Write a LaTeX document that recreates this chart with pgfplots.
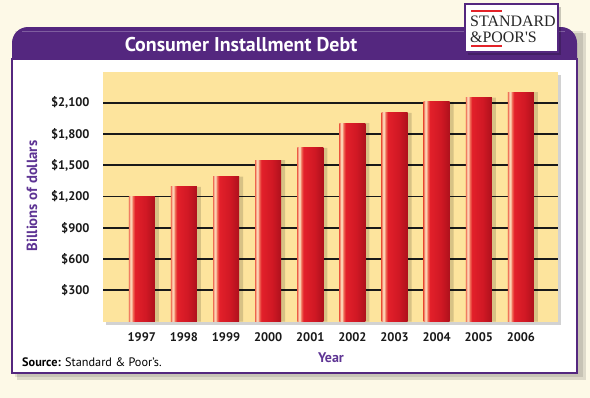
\documentclass[border=0pt]{standalone}
\usepackage{pgfplots}
\pgfplotsset{compat=1.18}
\usepackage{fontspec}
\setmainfont{PT Sans}
\newfontfamily\logofont{Liberation Serif}
\usetikzlibrary{shadows}
\definecolor{bgcream}{HTML}{FDF9E7}
\definecolor{ppurple}{HTML}{54277F}
\definecolor{plabel}{HTML}{5E3494}
\definecolor{tanbg}{HTML}{FDE49D}
\definecolor{sA}{HTML}{EE6E55}
\definecolor{sB}{HTML}{FCD2B2}
\definecolor{sC}{HTML}{F06A55}
\definecolor{sD}{HTML}{E3202A}
\definecolor{sE}{HTML}{D01824}
\definecolor{sF}{HTML}{AE111C}
\definecolor{logored}{HTML}{E32228}
\pgfdeclarehorizontalshading{barshade}{100bp}{color(0bp)=(sA); color(25bp)=(sA); color(28bp)=(sB); color(30bp)=(sB); color(33bp)=(sC); color(37bp)=(sD); color(58bp)=(sE); color(75bp)=(sF); color(100bp)=(sF)}
\pgfplotstableread{
x val
0 1200
1 1292
2 1390
3 1550
4 1667
5 1905
6 2002
7 2108
8 2150
9 2203
}\debt
\begin{document}
\begin{tikzpicture}
% background
\fill[bgcream] (0,0) rectangle (590bp,-398bp);
% panel shadow
\fill[black, opacity=0.12] (17bp,-33bp) rectangle (586bp,-380bp);
\fill[black, opacity=0.10] (15bp,-31bp) rectangle (583bp,-377bp);
% panel body
\draw[ppurple, line width=1.5bp, fill=white] (12bp,-59bp) rectangle (577bp,-373bp);
% title bar
\fill[ppurple] (12bp,-59bp) -- (12bp,-43bp) arc[start angle=180, end angle=90, radius=16bp] -- (561bp,-27bp) arc[start angle=90, end angle=0, radius=16bp] -- (577bp,-59bp) -- cycle;
\draw[white, opacity=0.25, line width=0.8bp] (22bp,-31bp) -- (565bp,-31bp);
\node[text=white, font=\bfseries\fontsize{20}{22}\selectfont] at (241bp,-45bp) {Consumer Installment Debt};
% logo
\fill[black, opacity=0.2] (468bp,-7bp) rectangle (561bp,-55bp);
\draw[ppurple, line width=2bp, fill=white] (465bp,-4bp) rectangle (558bp,-52bp);
\draw[logored, line width=1.5bp] (471bp,-11bp) -- (502bp,-11bp);
\draw[logored, line width=1.5bp] (471bp,-46bp) -- (502bp,-46bp);
\node[anchor=west, inner sep=0pt, font=\logofont\fontsize{16}{16}\selectfont, text=black!85] at (470bp,-21bp) {STANDARD};
\node[anchor=west, inner sep=0pt, font=\logofont\fontsize{16}{16}\selectfont, text=black!85] at (470bp,-37bp) {\&POOR'S};
% chart
\begin{axis}[
  at={(103bp,-321.5bp)}, anchor=south west,
  scale only axis, width=455bp, height=250bp,
  xmin=-0.92, xmax=9.88, ymin=0, ymax=2400,
  axis line style={draw=none},
  axis background/.style={fill=tanbg, drop shadow={shadow xshift=3bp, shadow yshift=-3bp, opacity=0.35}},
  xtick=data,
  xticklabels={1997,1998,1999,2000,2001,2002,2003,2004,2005,2006},
  ytick={300,600,900,1200,1500,1800,2100},
  yticklabel={\$\pgfmathprintnumber{\tick}},
  /pgf/number format/.cd, 1000 sep={,}, assume math mode=true, /pgfplots/.cd,
  major tick length=0pt,
  ymajorgrids, xmajorgrids=false,
  grid style={black!90, line width=1.6bp},
  ticklabel style={font=\bfseries\fontsize{12.5}{14}\selectfont, text=black!90},
  yticklabel style={xshift=-10bp},
  xticklabel style={yshift=-8bp},
  clip=false,
]
\addplot[ybar, bar width=26bp, bar shift=4bp, fill=black, opacity=0.15, draw=none] table[x=x, y=val] {\debt};
\pgfplotsinvokeforeach{0,...,9}{
  \addplot[ybar, bar width=26bp, bar shift=0bp, shading=barshade, draw=none] table[x=x, y=val, restrict x to domain=#1:#1] {\debt};
}
\end{axis}
% axis labels
\node[rotate=90, text=plabel, font=\bfseries\fontsize{14.8}{16}\selectfont] at (32bp,-196bp) {Billions of dollars};
\node[text=plabel, font=\bfseries\fontsize{14}{16}\selectfont] at (331bp,-358bp) {Year};
\node[anchor=west, inner sep=0pt, font=\fontsize{12.3}{14}\selectfont] at (22bp,-362bp) {\textbf{Source:} Standard \& Poor's.};
\end{tikzpicture}
\end{document}
